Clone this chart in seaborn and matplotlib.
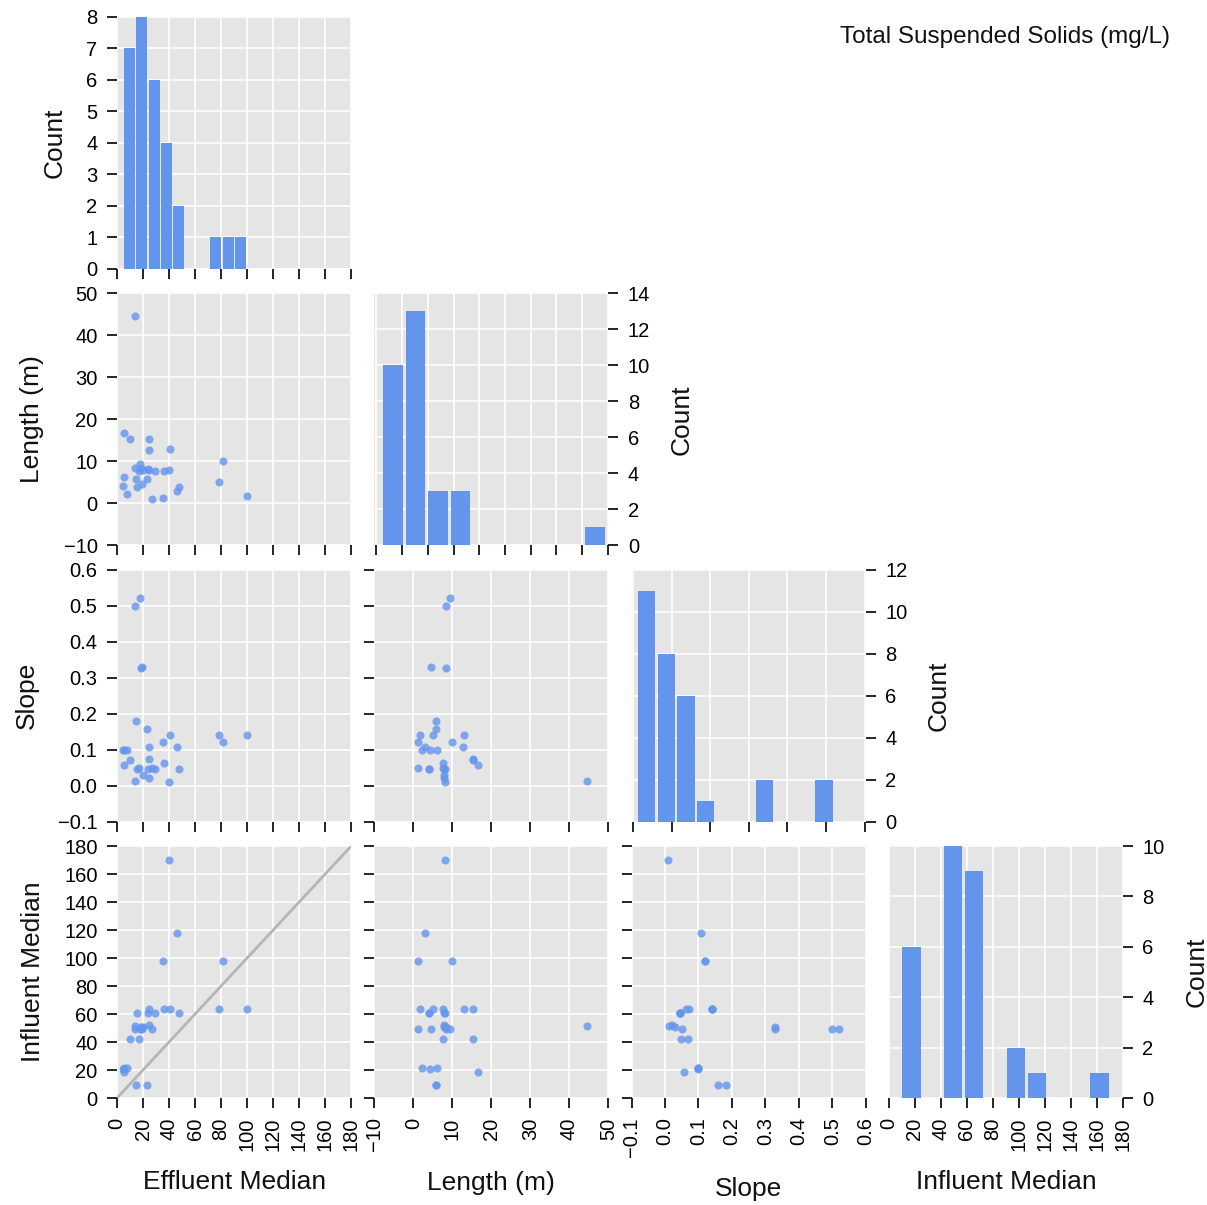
import numpy as np
import pandas as pd
import matplotlib
matplotlib.use("Agg")
import matplotlib.pyplot as plt
import seaborn as sns

# ---- data (one entry per site) ----
effluent = [40.0, 46.4, 35.1, 81.3, 36.5, 40.8, 78.7, 99.7, 24.9, 15.6,
            47.7, 29.2, 24.0, 19.5, 18.6, 13.8, 24.3, 20.3, 26.8, 10.0,
            16.7, 5.4, 5.4, 4.9, 7.9, 14.6, 22.8, 13.8, 17.7, 24.4]
length = [8.0, 3.0, 1.2, 10.0, 7.6, 13.0, 5.0, 1.8, 15.3, 4.0,
          4.0, 7.8, 8.1, 4.5, 8.4, 44.6, 7.95, 7.95, 1.1, 15.3,
          7.6, 16.7, 6.2, 4.2, 2.2, 5.8, 5.8, 8.4, 9.3, 12.8]
slope = [0.010, 0.108, 0.120, 0.120, 0.064, 0.140, 0.140, 0.140, 0.073, 0.046,
         0.045, 0.045, 0.046, 0.330, 0.328, 0.013, 0.020, 0.031, 0.050, 0.070,
         0.049, 0.058, 0.100, 0.100, 0.100, 0.181, 0.157, 0.500, 0.520, 0.108]
influent = [170.0, 118.0, 97.6, 97.6, 63.6, 63.6, 63.6, 63.6, 63.6, 60.7,
            60.7, 60.7, 60.7, 49.5, 50.5, 51.7, 52.4, 51.0, 49.5, 42.0,
            42.0, 18.3, 21.5, 21.0, 21.2, 9.5, 9.3, 49.5, 49.5, np.nan]

variables = ["Effluent Median", "Length (m)", "Slope", "Influent Median"]
title_text = "Total Suspended Solids (mg/L)"

# axis ranges / ticks for scatter panels
scatter_lims = [(0, 180), (-10, 50), (-0.1, 0.6), (0, 180)]
scatter_ticks = [np.arange(0, 181, 20), np.arange(-10, 51, 10),
                 np.round(np.arange(-0.1, 0.61, 0.1), 1), np.arange(0, 181, 20)]
# independent x axes of diagonal histograms
diag_xlims = [(0, 180), (-0.4, 45.1), (-0.004, 0.603), (0, 180)]
diag_xticks = [np.arange(0, 181, 20), np.arange(0, 46, 5),
               np.round(np.arange(0, 0.61, 0.1), 1), np.arange(0, 181, 20)]
diag_ylims = [(0, 8), (0, 14), (0, 12), (0, 10)]
diag_yticks = [np.arange(0, 9, 1), np.arange(0, 15, 2), np.arange(0, 13, 2), np.arange(0, 11, 2)]

df = pd.DataFrame({variables[0]: effluent, variables[1]: length,
                   variables[2]: slope, variables[3]: influent})

BLUE = "#6495ED"

sns.set_theme(style="darkgrid", rc={
    "axes.facecolor": "#e5e5e5",
    "grid.color": "white",
    "grid.linewidth": 1.2,
    "axes.spines.left": False, "axes.spines.right": False,
    "axes.spines.top": False, "axes.spines.bottom": False,
    "xtick.bottom": True, "ytick.left": True,
    "xtick.color": "black", "ytick.color": "black",
    "xtick.direction": "out", "ytick.direction": "out",
    "xtick.major.size": 7, "ytick.major.size": 7,
    "xtick.major.width": 1.2, "ytick.major.width": 1.2,
    "xtick.labelsize": 14.5, "ytick.labelsize": 14.5,
    "axes.labelsize": 19,
    "text.color": "#111111", "axes.labelcolor": "#111111",
})
plt.rcParams["font.family"] = ["Liberation Sans", "DejaVu Sans"]

fig, axes = plt.subplots(4, 4, figsize=(12.07, 12.05), dpi=100)
fig.subplots_adjust(left=117 / 1207, right=1123 / 1207,
                    top=1 - 17 / 1205, bottom=1 - 1098 / 1205,
                    wspace=0.0983, hspace=0.0966)

n = len(variables)
for i in range(n):
    for j in range(n):
        ax = axes[i, j]
        if j > i:
            ax.set_visible(False)
            continue
        xv, yv = variables[j], variables[i]
        if i == j:
            sns.histplot(data=df, x=xv, bins=10, ax=ax, color=BLUE,
                         edgecolor="none", linewidth=0, alpha=1.0, shrink=0.88)
            ax.set_xlim(*diag_xlims[j])
            ax.set_xticks(diag_xticks[j])
            ax.set_ylim(*diag_ylims[i])
            ax.set_yticks(diag_yticks[i])
            ax.set_ylabel("Count", labelpad=14)
            if i > 0:
                ax.yaxis.tick_right()
                ax.yaxis.set_label_position("right")
                ax.tick_params(axis="y", left=False, right=True,
                               labelleft=False, labelright=True)
        else:
            sns.scatterplot(data=df, x=xv, y=yv, ax=ax, color=BLUE, s=34,
                            alpha=0.8, linewidth=0)
            if i == 3 and j == 0:
                ax.axline((0, 0), slope=1, color="#b5b5b5", lw=2, zorder=1)
            ax.set_xlim(*scatter_lims[j])
            ax.set_xticks(scatter_ticks[j])
            ax.set_ylim(*scatter_lims[i])
            ax.set_yticks(scatter_ticks[i])
            ax.set_ylabel(yv if j == 0 else "", labelpad=14)
            if j > 0:
                ax.tick_params(axis="y", labelleft=False)
        ax.tick_params(pad=7)
        if i < n - 1:
            ax.tick_params(axis="x", labelbottom=False)
            ax.set_xlabel("")
        else:
            ax.set_xlabel(xv, labelpad=14)
            ax.tick_params(axis="x", labelrotation=90)
        ax.grid(True, color="white", linewidth=1.2)
        ax.set_axisbelow(True)

fig.text(1170 / 1207, 1 - 37 / 1205, title_text, ha="right", va="center",
         fontsize=17.5, color="#111111")

fig.savefig("out.png", dpi=100)
